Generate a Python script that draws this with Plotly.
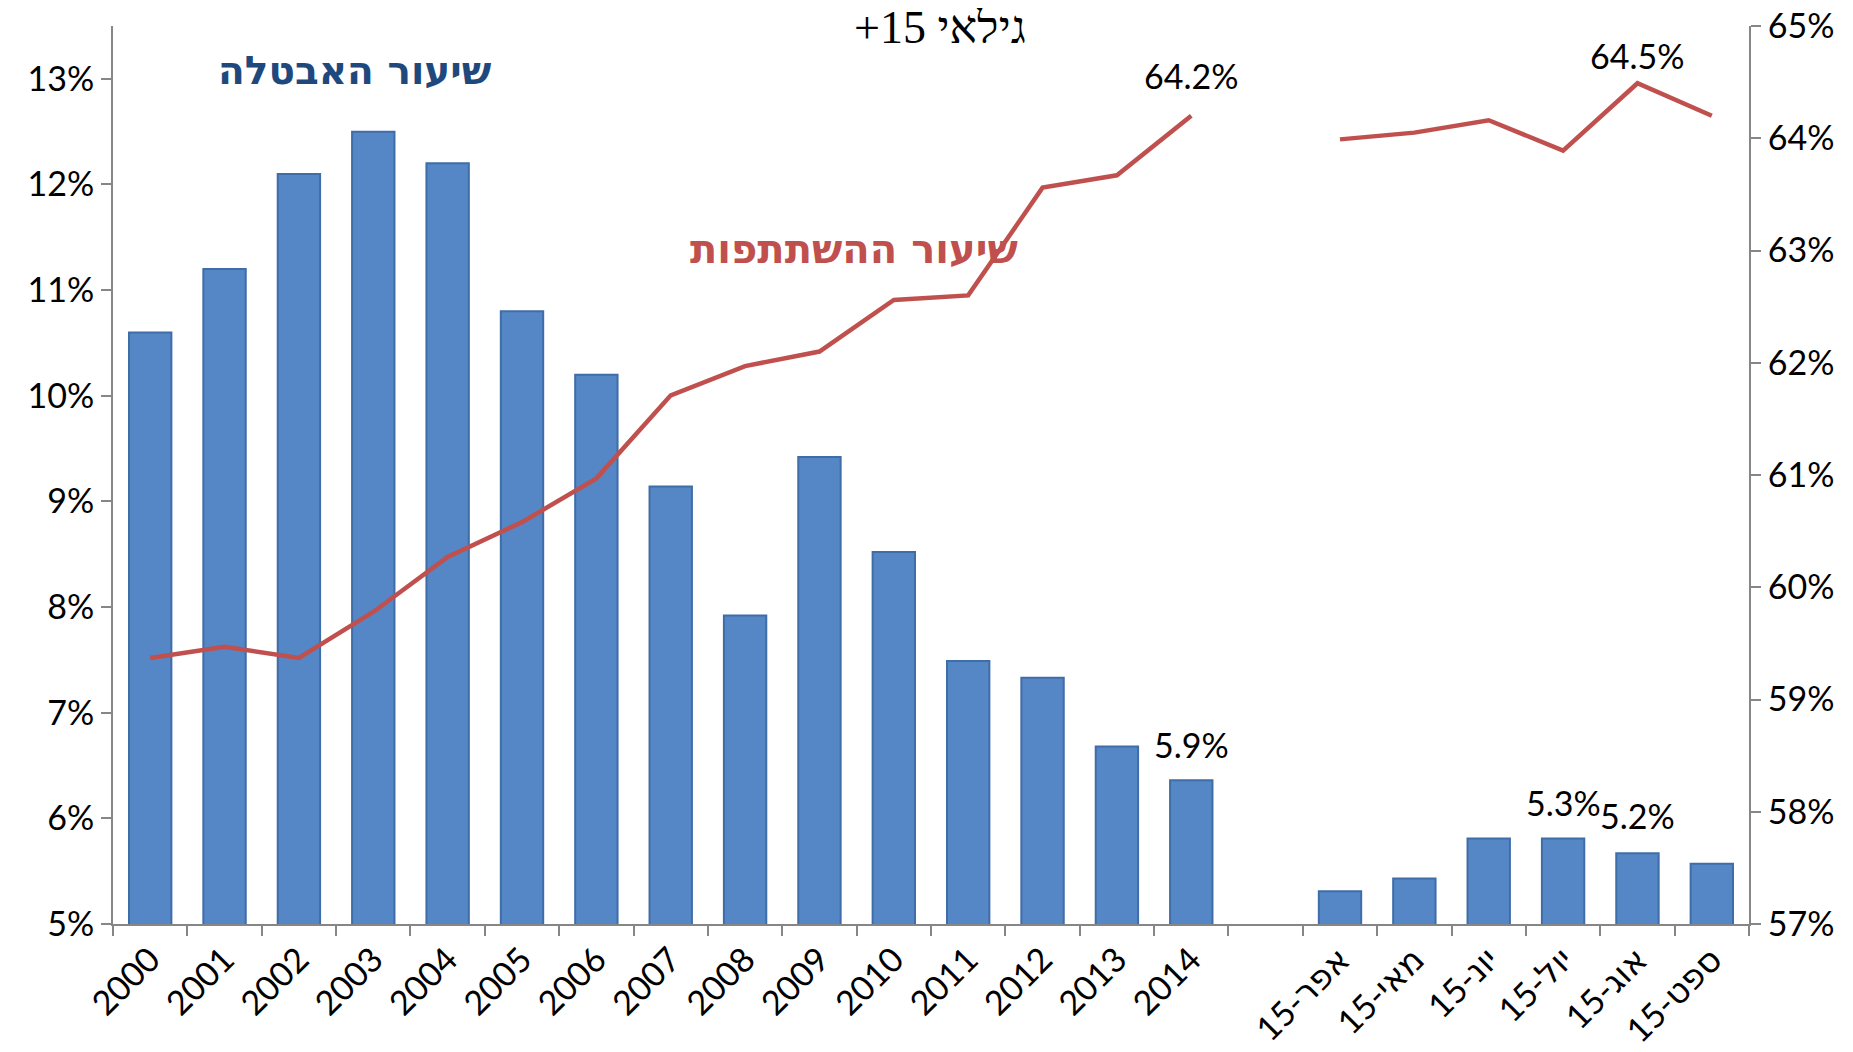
import plotly.graph_objects as go

RLM = "\u200f"

years = ["2000", "2001", "2002", "2003", "2004", "2005", "2006", "2007",
         "2008", "2009", "2010", "2011", "2012", "2013", "2014"]
months = ["אפר-15", "מאי-15", "יונ-15", "יול-15", "אוג-15", "ספט-15"]
categories = years + [" "] + [RLM + m for m in months]

# unemployment rate, % (left axis)
unemployment = [10.6, 11.2, 12.1, 12.5, 12.2, 10.8, 10.2, 9.14, 7.92, 9.42,
                8.52, 7.49, 7.33, 6.68, 6.36, None,
                5.31, 5.43, 5.81, 5.81, 5.67, 5.57]
# participation rate, % (right axis)
participation = [59.37, 59.47, 59.37, 59.78, 60.27, 60.58, 60.97, 61.71, 61.97,
                 62.1, 62.56, 62.6, 63.56, 63.67, 64.2, None,
                 63.99, 64.05, 64.16, 63.89, 64.49, 64.2]

num_font = "Lato, DejaVu Sans, sans-serif"

fig = go.Figure()
fig.add_trace(go.Bar(
    x=categories, y=unemployment, name="unemployment",
    marker=dict(color="#5586C6", line=dict(color="#3F6DA8", width=2)),
    showlegend=False,
))
fig.add_trace(go.Scatter(
    x=categories, y=participation, yaxis="y2", mode="lines",
    line=dict(color="#C0504D", width=4.5), name="participation",
    showlegend=False,
))

# (category index, value, axis, text, pixel shift up)
value_labels = [
    (14, participation[14], "y2", "64.2%", 40),
    (20, participation[20], "y2", "64.5%", 28),
    (14, unemployment[14], "y", "5.9%", 36),
    (19, unemployment[19], "y", "5.3%", 36),
    (20, unemployment[20], "y", "5.2%", 38),
]
annotations = []
for i, y, yref, text, shift in value_labels:
    annotations.append(dict(
        x=i, y=y, xref="x", yref=yref, text=text, showarrow=False,
        xanchor="center", yshift=shift,
        font=dict(family=num_font, size=34, color="black"),
    ))

annotations += [
    dict(x=0.5055, y=0.998, xref="paper", yref="paper",
         text=RLM + "גילאי 15+" + RLM, showarrow=False,
         xanchor="center", yanchor="middle",
         font=dict(family="Liberation Serif, DejaVu Serif, serif", size=46,
                   color="black")),
    dict(x=0.148, y=0.950, xref="paper", yref="paper", text="<b>שיעור האבטלה</b>",
         showarrow=False, xanchor="center", yanchor="middle",
         font=dict(family="DejaVu Sans, sans-serif", size=39, color="#1F497D")),
    dict(x=0.453, y=0.752, xref="paper", yref="paper", text="<b>שיעור ההשתתפות</b>",
         showarrow=False, xanchor="center", yanchor="middle",
         font=dict(family="DejaVu Sans, sans-serif", size=40, color="#C0504D")),
]

axis_common = dict(
    showline=True, linecolor="#868686", linewidth=2,
    ticks="outside", ticklen=10, tickcolor="#868686", tickwidth=2,
    showgrid=False, zeroline=False, automargin=False,
    ticklabeloverflow="allow",
    tickfont=dict(family=num_font, size=34, color="black"),
)

fig.update_layout(
    width=1837, height=1036,
    plot_bgcolor="white", paper_bgcolor="white",
    margin=dict(l=105, r=96, t=18, b=120),
    bargap=0.43,
    xaxis=dict(type="category", tickangle=-45, tickson="boundaries",
               range=[-0.5, len(categories) - 0.5], **axis_common),
    yaxis=dict(range=[5, 13.5], dtick=1, tick0=5, ticksuffix="%",
               **axis_common),
    yaxis2=dict(range=[57, 65], dtick=1, tick0=57, ticksuffix="%",
                overlaying="y", side="right", **axis_common),
    annotations=annotations,
)

fig.write_html("out.html")
